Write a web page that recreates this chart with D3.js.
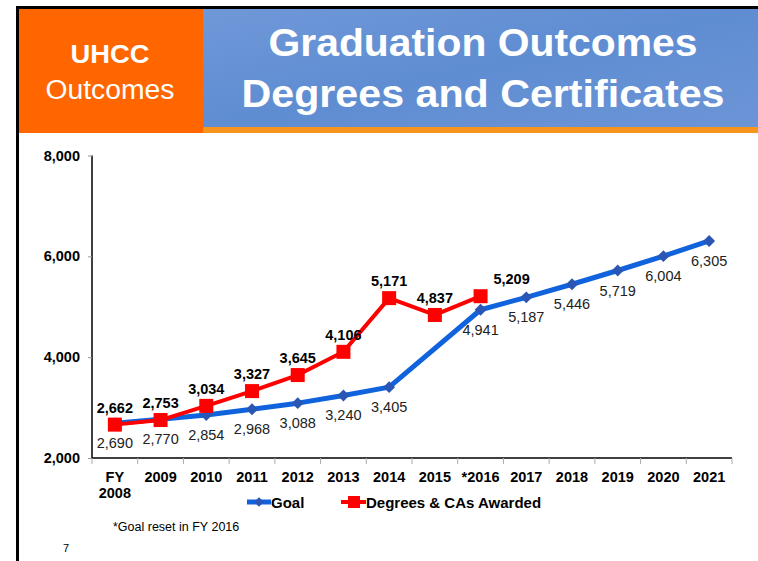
<!DOCTYPE html>
<html>
<head>
<meta charset="utf-8">
<script src="https://cdn.jsdelivr.net/npm/d3@7"></script>
<style>
  body { margin: 0; background: #fff; }
  svg { display: block; font-family: "Liberation Sans", Arial, sans-serif; }
</style>
</head>
<body>
<svg id="chart" width="758" height="561"></svg>
<script>
// chart data
var years = ["FY 2008", "2009", "2010", "2011", "2012", "2013", "2014", "2015", "*2016", "2017", "2018", "2019", "2020", "2021"];
var goal = [2690, 2770, 2854, 2968, 3088, 3240, 3405, null, 4941, 5187, 5446, 5719, 6004, 6305];
var awarded = [2662, 2753, 3034, 3327, 3645, 4106, 5171, 4837, 5209, null, null, null, null, null];
var yTicks = [2000, 4000, 6000, 8000];
var seriesNames = ["Goal", "Degrees & CAs Awarded"];

var svg = d3.select("#chart");

// header
var defs = svg.append("defs");
var grad = defs.append("linearGradient").attr("id", "hdr").attr("x1", 0).attr("x2", 1).attr("y1", 0).attr("y2", 1);
grad.append("stop").attr("offset", "0%").attr("stop-color", "#6f98d8");
grad.append("stop").attr("offset", "50%").attr("stop-color", "#5f8dd2");
grad.append("stop").attr("offset", "100%").attr("stop-color", "#6c95d6");

svg.append("rect").attr("x", 17).attr("y", 6).attr("width", 741).attr("height", 3).attr("fill", "#000");
svg.append("rect").attr("x", 16).attr("y", 6).attr("width", 3).attr("height", 555).attr("fill", "#000");
svg.append("rect").attr("x", 19).attr("y", 9).attr("width", 184).attr("height", 124).attr("fill", "#ff6600");
svg.append("rect").attr("x", 203).attr("y", 9).attr("width", 555).attr("height", 118).attr("fill", "url(#hdr)");
svg.append("rect").attr("x", 203).attr("y", 127).attr("width", 555).attr("height", 6).attr("fill", "#f7941d");

svg.append("text").attr("x", 110).attr("y", 63).attr("text-anchor", "middle")
  .attr("fill", "#fff").attr("font-size", 25).attr("font-weight", "bold")
  .attr("textLength", 79).attr("lengthAdjust", "spacingAndGlyphs").text("UHCC");
svg.append("text").attr("x", 110).attr("y", 99).attr("text-anchor", "middle")
  .attr("fill", "#fff").attr("font-size", 27).attr("textLength", 129).attr("lengthAdjust", "spacingAndGlyphs").text("Outcomes");
svg.append("text").attr("x", 483).attr("y", 56).attr("text-anchor", "middle")
  .attr("fill", "#fff").attr("font-size", 38).attr("font-weight", "bold")
  .attr("textLength", 429).attr("lengthAdjust", "spacingAndGlyphs").text("Graduation Outcomes");
svg.append("text").attr("x", 483).attr("y", 107).attr("text-anchor", "middle")
  .attr("fill", "#fff").attr("font-size", 38).attr("font-weight", "bold")
  .attr("textLength", 483).attr("lengthAdjust", "spacingAndGlyphs").text("Degrees and Certificates");

// plot area
var plotL = 92, plotR = 732, plotT = 155.5, plotB = 458;

var x = d3.scaleBand().domain(years).range([plotL, plotR]);
var y = d3.scaleLinear().domain([2000, 8000]).range([plotB, plotT]);
var cx = function (i) { return x(years[i]) + x.bandwidth() / 2; };

// y axis
var yAxis = svg.append("g").attr("transform", "translate(" + plotL + ",0)")
  .call(d3.axisLeft(y).tickValues(yTicks).tickFormat(d3.format(",")).tickSize(4).tickPadding(8));
yAxis.select(".domain").attr("stroke", "#000").attr("stroke-width", 1.5).attr("d", "M0," + plotT + "V" + plotB);
yAxis.selectAll(".tick line").attr("stroke", "#999");
yAxis.selectAll(".tick text").attr("font-size", 14.5).attr("font-weight", "bold").attr("fill", "#000")
  .attr("font-family", "Liberation Sans, Arial, sans-serif");

// x axis
var xAxis = svg.append("g").attr("transform", "translate(0," + plotB + ")");
xAxis.append("line").attr("x1", plotL).attr("x2", plotR).attr("y1", 0).attr("y2", 0)
  .attr("stroke", "#000").attr("stroke-width", 1.5);
xAxis.selectAll(".tk").data(d3.range(years.length + 1)).enter().append("line")
  .attr("x1", function (i) { return plotL + i * x.bandwidth(); })
  .attr("x2", function (i) { return plotL + i * x.bandwidth(); })
  .attr("y1", 0).attr("y2", 6).attr("stroke", "#aaa");
xAxis.selectAll(".lbl").data(years).enter().append("text")
  .attr("x", function (d) { return x(d) + x.bandwidth() / 2; })
  .attr("y", 23.5).attr("text-anchor", "middle")
  .attr("font-size", 14.5).attr("font-weight", "bold").attr("fill", "#000")
  .each(function (d) {
    var parts = d.split(" ");
    var t = d3.select(this);
    parts.forEach(function (p, k) {
      t.append("tspan").attr("x", t.attr("x")).attr("dy", k === 0 ? 0 : 16).text(p);
    });
  });

// lines
var blue = "#1063dd", blueMark = "#2a57b3", red = "#ff0000";
var goalPts = goal.map(function (v, i) { return { i: i, v: v }; }).filter(function (d) { return d.v !== null; });
var awPts = awarded.map(function (v, i) { return { i: i, v: v }; }).filter(function (d) { return d.v !== null; });
var line = d3.line().x(function (d) { return cx(d.i); }).y(function (d) { return y(d.v); });

svg.append("path").datum(goalPts).attr("d", line).attr("fill", "none")
  .attr("stroke", blue).attr("stroke-width", 5).attr("stroke-linejoin", "round");
svg.selectAll(".gm").data(goalPts).enter().append("path")
  .attr("d", d3.symbol().type(d3.symbolDiamond2).size(90))
  .attr("transform", function (d) { return "translate(" + cx(d.i) + "," + y(d.v) + ")"; })
  .attr("fill", blueMark);

svg.append("path").datum(awPts).attr("d", line).attr("fill", "none")
  .attr("stroke", red).attr("stroke-width", 4).attr("stroke-linejoin", "round");
svg.selectAll(".am").data(awPts).enter().append("rect")
  .attr("x", function (d) { return cx(d.i) - 7; })
  .attr("y", function (d) { return y(d.v) - 7; })
  .attr("width", 14).attr("height", 14).attr("fill", red);

// data labels
var fmt = d3.format(",");
svg.selectAll(".gl").data(goalPts).enter().append("text")
  .attr("x", function (d) { return cx(d.i); })
  .attr("y", function (d) { return y(d.v) + 25; })
  .attr("text-anchor", "middle").attr("font-size", 14.5).attr("fill", "#222")
  .text(function (d) { return fmt(d.v); });
svg.selectAll(".al").data(awPts).enter().append("text")
  .attr("x", function (d) { return cx(d.i) + (years[d.i] === "*2016" ? 31 : 0); })
  .attr("y", function (d) { return y(d.v) - 12; })
  .attr("text-anchor", "middle").attr("font-size", 14.5).attr("font-weight", "bold").attr("fill", "#000")
  .text(function (d) { return fmt(d.v); });

// legend
var lg = svg.append("g").attr("transform", "translate(247,502)");
lg.append("line").attr("x1", 0).attr("x2", 24).attr("stroke", blue).attr("stroke-width", 5);
lg.append("path").attr("d", d3.symbol().type(d3.symbolDiamond2).size(60)).attr("transform", "translate(12,0)").attr("fill", blueMark);
lg.append("text").attr("x", 24).attr("y", 5.5).attr("font-size", 15).attr("font-weight", "bold").text(seriesNames[0]);
lg.append("line").attr("x1", 94).attr("x2", 119).attr("stroke", red).attr("stroke-width", 4);
lg.append("rect").attr("x", 101).attr("y", -6).attr("width", 12).attr("height", 12).attr("fill", red);
lg.append("text").attr("x", 119).attr("y", 5.5).attr("font-size", 15).attr("font-weight", "bold").text(seriesNames[1]);

// footnote and page number
svg.append("text").attr("x", 113).attr("y", 531).attr("font-size", 12.5).attr("fill", "#000").text("*Goal reset in FY 2016");
svg.append("text").attr("x", 63).attr("y", 552).attr("font-size", 11).attr("fill", "#000").text("7");
</script>
</body>
</html>
